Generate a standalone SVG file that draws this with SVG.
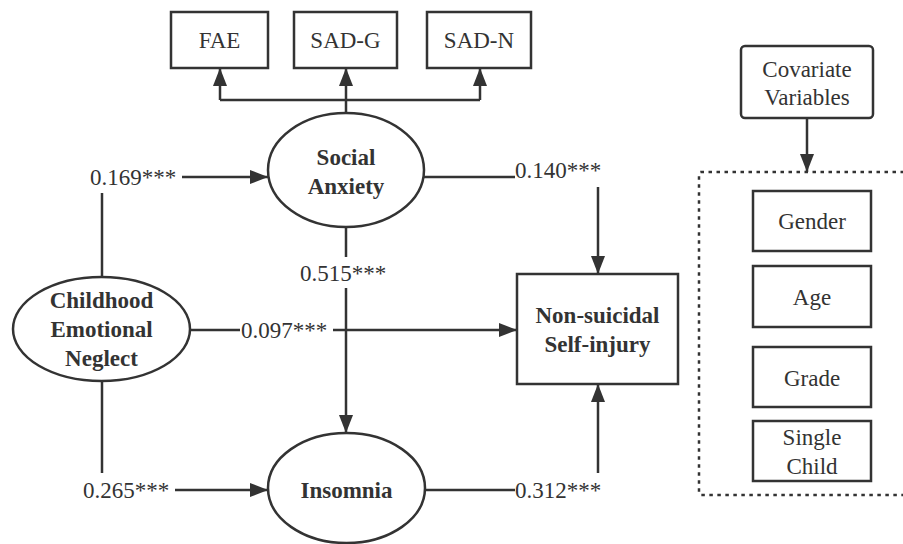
<svg xmlns="http://www.w3.org/2000/svg" width="903" height="544" viewBox="0 0 903 544">
<defs>
<marker id="ah" markerUnits="userSpaceOnUse" markerWidth="18" markerHeight="14" refX="18" refY="7" orient="auto">
<path d="M0,0 L18,7 L0,14 z" fill="#333"/>
</marker>
<style>
text{font-family:'Liberation Serif','Times New Roman',Times,'DejaVu Serif',serif;font-size:23px;fill:#333}
.n{fill:#fff;stroke:#333;stroke-width:2.5}
.t{text-anchor:middle}
.b{font-weight:bold}
.c{fill:none;stroke:#333;stroke-width:2.5}
.a{marker-end:url(#ah)}
</style>
</defs>
<rect width="903" height="544" fill="#fff"/>
<g id="connectors">
<path class="c" d="M346,113 V100 M220,100 H480"/>
<path class="c a" d="M220,100 V68"/>
<path class="c a" d="M346,100 V68"/>
<path class="c a" d="M480,100 V68"/>
<path class="c" d="M102,277 V193"/>
<path class="c a" d="M182,177 H268"/>
<path class="c" d="M190,330 H240"/>
<path class="c a" d="M333,330 H517"/>
<path class="c" d="M102,381 V473"/>
<path class="c a" d="M175,490 H268"/>
<path class="c" d="M346,227 V257"/>
<path class="c a" d="M346,288 V433"/>
<path class="c" d="M424,177 H515"/>
<path class="c a" d="M598,187 V274"/>
<path class="c" d="M425,490 H515"/>
<path class="c a" d="M598,473 V384"/>
<path class="c a" d="M807,118 V172"/>
<text x="90" y="185">0.169***</text>
<text x="241" y="338">0.097***</text>
<text x="83" y="498">0.265***</text>
<text x="300" y="281">0.515***</text>
<text x="515" y="178">0.140***</text>
<text x="515" y="498">0.312***</text>
</g>
<g id="FAE"><rect class="n" x="171" y="12" width="97" height="56"/><text class="t" x="219.5" y="48">FAE</text></g>
<g id="SAD-G"><rect class="n" x="294" y="12" width="103" height="56"/><text class="t" x="345.5" y="48">SAD-G</text></g>
<g id="SAD-N"><rect class="n" x="427" y="12" width="104" height="56"/><text class="t" x="479" y="48">SAD-N</text></g>
<g id="social-anxiety"><ellipse class="n" cx="346" cy="170" rx="78" ry="57"/><text class="t b" x="346" y="165">Social</text><text class="t b" x="346" y="194">Anxiety</text></g>
<g id="childhood-emotional-neglect"><ellipse class="n" cx="101.5" cy="329" rx="88.5" ry="52"/><text class="t b" x="101.5" y="308">Childhood</text><text class="t b" x="101.5" y="337">Emotional</text><text class="t b" x="101.5" y="366">Neglect</text></g>
<g id="insomnia"><ellipse class="n" cx="346.5" cy="488" rx="78.5" ry="55"/><text class="t b" x="346.5" y="498">Insomnia</text></g>
<g id="nssi"><rect class="n" x="517" y="274" width="161" height="110"/><text class="t b" x="597.5" y="323">Non-suicidal</text><text class="t b" x="597.5" y="352">Self-injury</text></g>
<g id="covariate-variables"><rect class="n" x="741" y="46" width="132" height="72" rx="4"/><text class="t" x="807" y="77">Covariate</text><text class="t" x="807" y="105">Variables</text></g>
<g id="covariates">
<path d="M920,172 H701 Q699,172 699,174 V493 Q699,495 701,495 H920" fill="none" stroke="#333" stroke-width="2.5" stroke-dasharray="3.5,4.5"/>
</g>
<g id="gender"><rect class="n" x="753" y="191" width="118" height="60"/><text class="t" x="812" y="229">Gender</text></g>
<g id="age"><rect class="n" x="753" y="266" width="118" height="61"/><text class="t" x="812" y="305">Age</text></g>
<g id="grade"><rect class="n" x="753" y="347" width="118" height="60"/><text class="t" x="812" y="386">Grade</text></g>
<g id="single-child"><rect class="n" x="753" y="421" width="118" height="60"/><text class="t" x="812" y="445">Single</text><text class="t" x="812" y="474">Child</text></g>
</svg>
